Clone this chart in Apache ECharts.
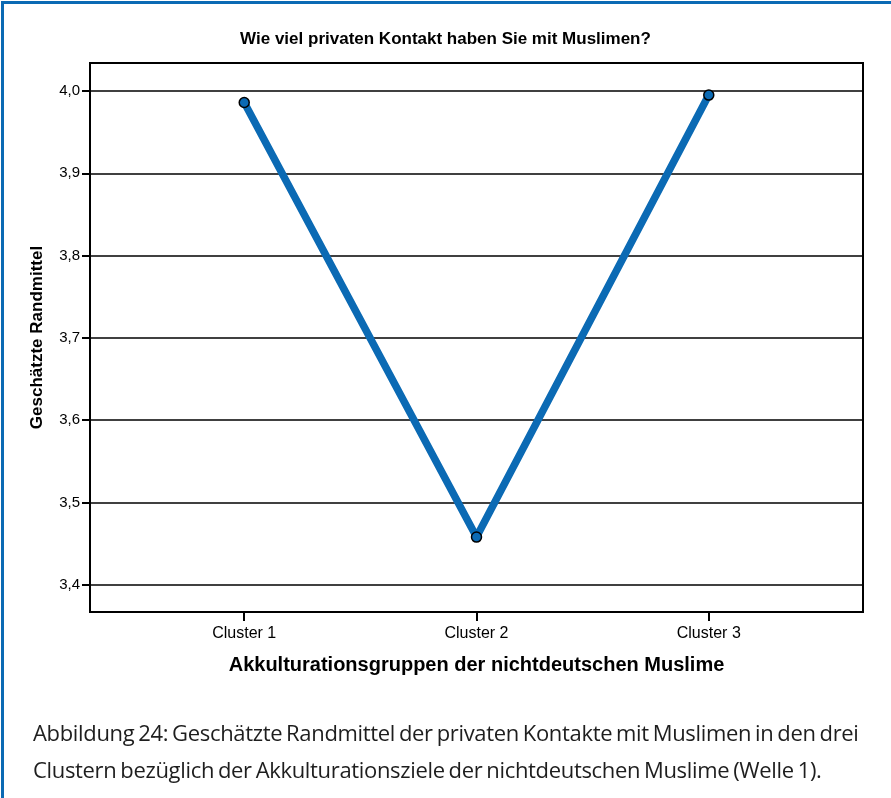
<!DOCTYPE html>
<html>
<head>
<meta charset="utf-8">
<script src="https://cdn.jsdelivr.net/npm/echarts@6/dist/echarts.min.js"></script>
<style>
  html, body { margin: 0; padding: 0; background: #fff; }
  #wrap { position: relative; width: 891px; height: 798px; overflow: hidden; }
  #frame { position: absolute; left: 1px; top: 1px; width: 900px; height: 900px;
           border-left: 3px solid #0b6ab4; border-top: 3px solid #0b6ab4; }
  #main { position: absolute; left: 0; top: 0; width: 891px; height: 798px; }
  #caption { position: absolute; left: 33px; top: 714px; width: 858px;
             font-family: "Open Sans", sans-serif; font-size: 22px; line-height: 37px;
             letter-spacing: -0.33px; word-spacing: -1.5px; color: #1e1e1e; white-space: nowrap; }
</style>
</head>
<body>
<div id="wrap">
  <div id="frame"></div>
  <div id="main"></div>
  <div id="caption">Abbildung 24: Geschätzte Randmittel der privaten Kontakte mit Muslimen in den drei<br>Clustern bezüglich der Akkulturationsziele der nichtdeutschen Muslime (Welle 1).</div>
</div>
<script>
  var chartTitle = 'Wie viel privaten Kontakt haben Sie mit Muslimen?';
  var categories = ['Cluster 1', 'Cluster 2', 'Cluster 3'];
  var values = [3.986, 3.458, 3.995];
  var yTicks = [3.4, 3.5, 3.6, 3.7, 3.8, 3.9, 4.0];
  var xTicks = [0, 1, 2];

  var myChart = echarts.init(document.getElementById('main'));

  var points = [];
  for (var i = 0; i < categories.length; i++) {
    points.push([i, values[i]]);
  }

  var option = {
    animation: false,
    title: {
      text: chartTitle,
      left: 'center',
      top: 26,
      textStyle: { fontFamily: 'Liberation Sans', fontSize: 17, fontWeight: 'bold', color: '#000' }
    },
    grid: {
      left: 90, right: 28, top: 63, bottom: 186,
      show: true, borderColor: '#000', borderWidth: 2, backgroundColor: 'transparent'
    },
    xAxis: {
      type: 'value',
      min: -0.664,
      max: 2.664,
      name: 'Akkulturationsgruppen der nichtdeutschen Muslime',
      nameLocation: 'middle',
      nameGap: 43,
      nameTextStyle: { fontFamily: 'Liberation Sans', fontSize: 20, fontWeight: 'bold', color: '#000' },
      axisLine: { show: true, onZero: false, lineStyle: { color: '#000', width: 2 } },
      axisTick: { show: true, customValues: xTicks, length: 9, lineStyle: { color: '#000', width: 2 } },
      axisLabel: {
        customValues: xTicks,
        margin: 14,
        fontFamily: 'Liberation Sans', fontSize: 16, color: '#000',
        formatter: function (v) { return categories[Math.round(v)]; }
      },
      splitLine: { show: false }
    },
    yAxis: {
      type: 'value',
      min: 3.367,
      max: 4.034,
      name: 'Geschätzte Randmittel',
      nameLocation: 'middle',
      nameGap: 44,
      nameTextStyle: { fontFamily: 'Liberation Sans', fontSize: 17, fontWeight: 'bold', color: '#000' },
      axisLine: { show: true, onZero: false, lineStyle: { color: '#000', width: 2 } },
      axisTick: { show: true, customValues: yTicks, length: 8, lineStyle: { color: '#000', width: 2 } },
      axisLabel: {
        customValues: yTicks,
        margin: 10,
        fontFamily: 'Liberation Sans', fontSize: 15, color: '#000',
        formatter: function (v) { return v.toFixed(1).replace('.', ','); }
      },
      splitLine: { show: true, lineStyle: { color: '#000', width: 1.6 } }
    },
    series: [{
      type: 'line',
      data: points,
      symbol: 'circle',
      symbolSize: 10,
      lineStyle: { color: '#0b6ab4', width: 7.5 },
      itemStyle: { color: '#0b6ab4', borderColor: '#000', borderWidth: 1.5 },
      z: 5
    }]
  };

  myChart.setOption(option);
</script>
</body>
</html>
